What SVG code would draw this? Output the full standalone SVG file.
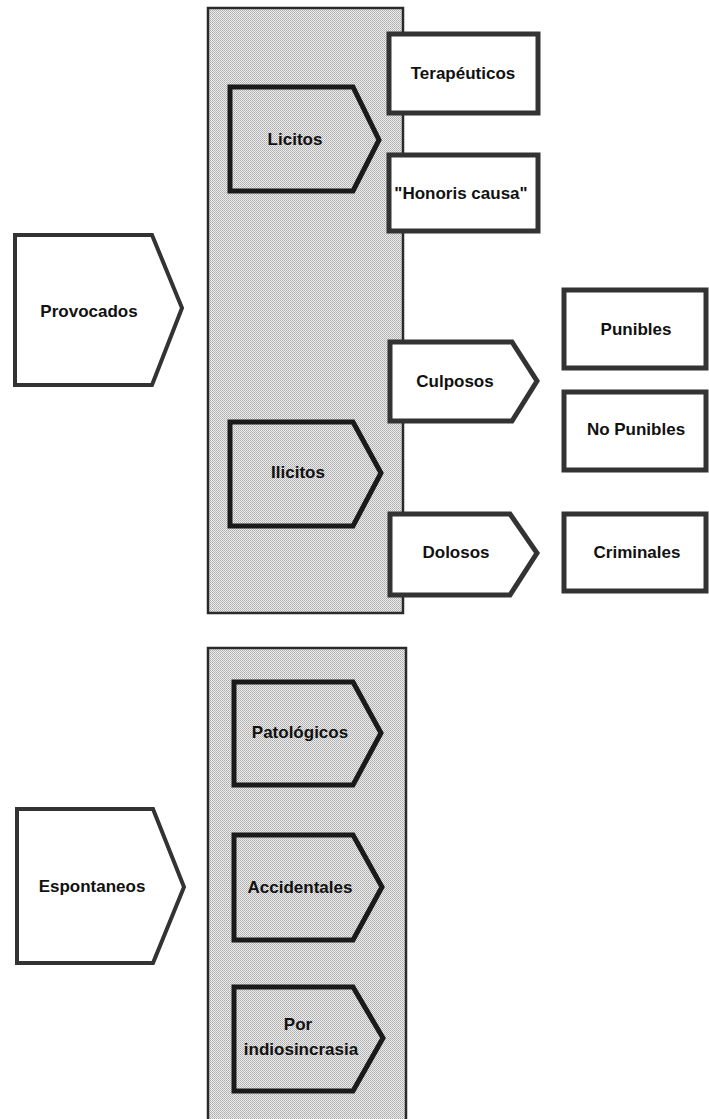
<svg xmlns="http://www.w3.org/2000/svg" width="709" height="1119" viewBox="0 0 709 1119">
<defs>
<pattern id="stip" width="2" height="2" patternUnits="userSpaceOnUse">
<rect width="2" height="2" fill="#ececec"/>
<rect width="1" height="1" fill="#acacac"/>
<rect x="1" y="1" width="1" height="1" fill="#bcbcbc"/>
</pattern>
</defs>
<style>
.panel{fill:url(#stip);stroke:#2a2a2a;stroke-width:2.5}
.inner{fill:url(#stip);stroke:#1a1a1a;stroke-width:5;stroke-linejoin:miter}
.box{fill:#ffffff;stroke:#333333;stroke-width:5}
.outer{fill:#ffffff;stroke:#333333;stroke-width:4}
text{font-family:"Liberation Sans",Arial,sans-serif;font-weight:bold;font-size:17px;fill:#111;text-anchor:middle}
</style>
<rect width="709" height="1119" fill="#ffffff"/>
<g id="panel-provocados"><rect class="panel" x="208" y="8" width="195" height="605"/></g>
<g id="panel-espontaneos"><rect class="panel" x="208" y="648" width="198" height="480"/></g>
<g id="connectors"></g>
<g id="provocados"><polygon class="outer" points="15,235 152,235 182,308 152,385 15,385"/><text x="89" y="317">Provocados</text></g>
<g id="licitos"><polygon class="inner" points="230,87 353,87 379,140 353,191 230,191"/><text x="295" y="145">Licitos</text></g>
<g id="terapeuticos"><rect class="box" x="389" y="34" width="149" height="79"/><text x="463" y="79">Terapéuticos</text></g>
<g id="honoris"><rect class="box" x="389" y="155" width="149" height="76"/><text x="461" y="199">"Honoris causa"</text></g>
<g id="ilicitos"><polygon class="inner" points="230,422 353,422 381,473 353,526 230,526"/><text x="298" y="478">Ilicitos</text></g>
<g id="culposos"><polygon class="box" points="390,342 512,342 537,381 512,421 390,421"/><text x="455" y="387">Culposos</text></g>
<g id="dolosos"><polygon class="box" points="390,514 510,514 537,553 510,595 390,595"/><text x="456" y="558">Dolosos</text></g>
<g id="punibles"><rect class="box" x="564" y="290" width="142" height="78"/><text x="636" y="335">Punibles</text></g>
<g id="nopunibles"><rect class="box" x="564" y="392" width="142" height="78"/><text x="636" y="435">No Punibles</text></g>
<g id="criminales"><rect class="box" x="564" y="514" width="142" height="77"/><text x="637" y="558">Criminales</text></g>
<g id="espontaneos"><polygon class="outer" points="17,809 153,809 184,887 153,963 17,963"/><text x="92" y="892">Espontaneos</text></g>
<g id="patologicos"><polygon class="inner" points="234,682 353,682 381,733 353,785 234,785"/><text x="300" y="738">Patológicos</text></g>
<g id="accidentales"><polygon class="inner" points="234,835 353,835 382,887 353,940 234,940"/><text x="300" y="893">Accidentales</text></g>
<g id="indiosincrasia"><polygon class="inner" points="234,987 353,987 383,1038 353,1091 234,1091"/><text x="298" y="1030">Por</text><text x="301" y="1055">indiosincrasia</text></g>
</svg>
